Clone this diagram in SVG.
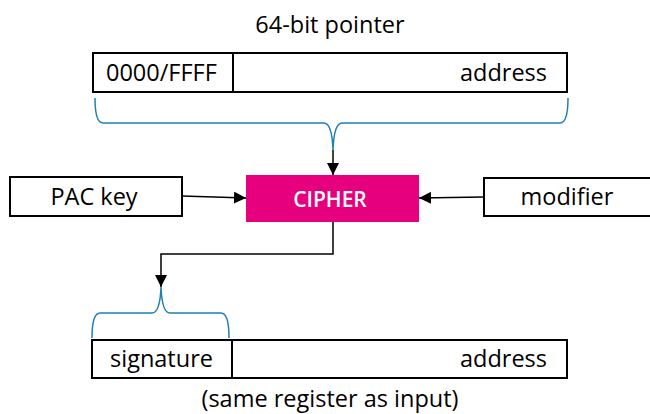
<svg xmlns="http://www.w3.org/2000/svg" width="650" height="414" viewBox="0 0 650 414">
  <style>
    text { font-family: "Open Sans", "Noto Sans", sans-serif; font-size: 23.5px; fill: #000; }
    .box { fill: #fff; stroke: #000; stroke-width: 2; }
    .brace { fill: none; stroke: #1f7fb3; stroke-width: 1.5; }
    .wire { fill: none; stroke: #000; stroke-width: 1.5; }
    .cipher { fill: #e6007e; }
    .label-light { fill: #fff; font-size: 21px; font-weight: 600; }
  </style>
  <defs>
    <marker id="arrow" viewBox="0 0 10 10" refX="10" refY="5" markerWidth="12" markerHeight="12" markerUnits="userSpaceOnUse" orient="auto">
      <path d="M0,0 L10,5 L0,10 z" fill="#000"/>
    </marker>
  </defs>

  <text x="330" y="33" text-anchor="middle">64-bit pointer</text>

  <g id="pointer-in">
    <rect class="box" x="93" y="53" width="474" height="39"/>
    <line x1="233" y1="53" x2="233" y2="92" stroke="#000" stroke-width="2"/>
    <text x="106" y="81">0000/FFFF</text>
    <text x="547" y="81" text-anchor="end">address</text>
    <path class="brace" d="M95,98 Q95,123 103,123 L324,123 Q332,123 333,150 Q334,123 342,123 L560,123 Q568,123 568,98"/>
  </g>

  <g id="pac-key">
    <rect class="box" x="10" y="177" width="172" height="39"/>
    <text x="94" y="205" text-anchor="middle">PAC key</text>
  </g>

  <g id="cipher">
    <rect class="cipher" x="246" y="175" width="173" height="47"/>
    <text class="label-light" x="330" y="207" text-anchor="middle">CIPHER</text>
  </g>

  <g id="modifier">
    <rect class="box" x="484" y="178" width="170" height="38"/>
    <text x="567" y="205" text-anchor="middle">modifier</text>
  </g>

  <g id="pointer-out">
    <path class="brace" d="M92,338 Q92,313 100,313 L152,313 Q160,313 161,287 Q162,313 170,313 L221,313 Q229,313 229,338"/>
    <rect class="box" x="92" y="340" width="475" height="38"/>
    <line x1="232" y1="340" x2="232" y2="378" stroke="#000" stroke-width="2"/>
    <text x="110" y="367">signature</text>
    <text x="547" y="367" text-anchor="end">address</text>
  </g>

  <text x="330" y="407" text-anchor="middle">(same register as input)</text>

  <g id="connectors">
    <line class="wire" x1="333" y1="150" x2="333" y2="175" marker-end="url(#arrow)"/>
    <line class="wire" x1="182" y1="196" x2="246" y2="198" marker-end="url(#arrow)"/>
    <line class="wire" x1="484" y1="197" x2="419" y2="198" marker-end="url(#arrow)"/>
    <polyline class="wire" points="333,222 333,254 161,254 161,287" marker-end="url(#arrow)"/>
  </g>
</svg>
